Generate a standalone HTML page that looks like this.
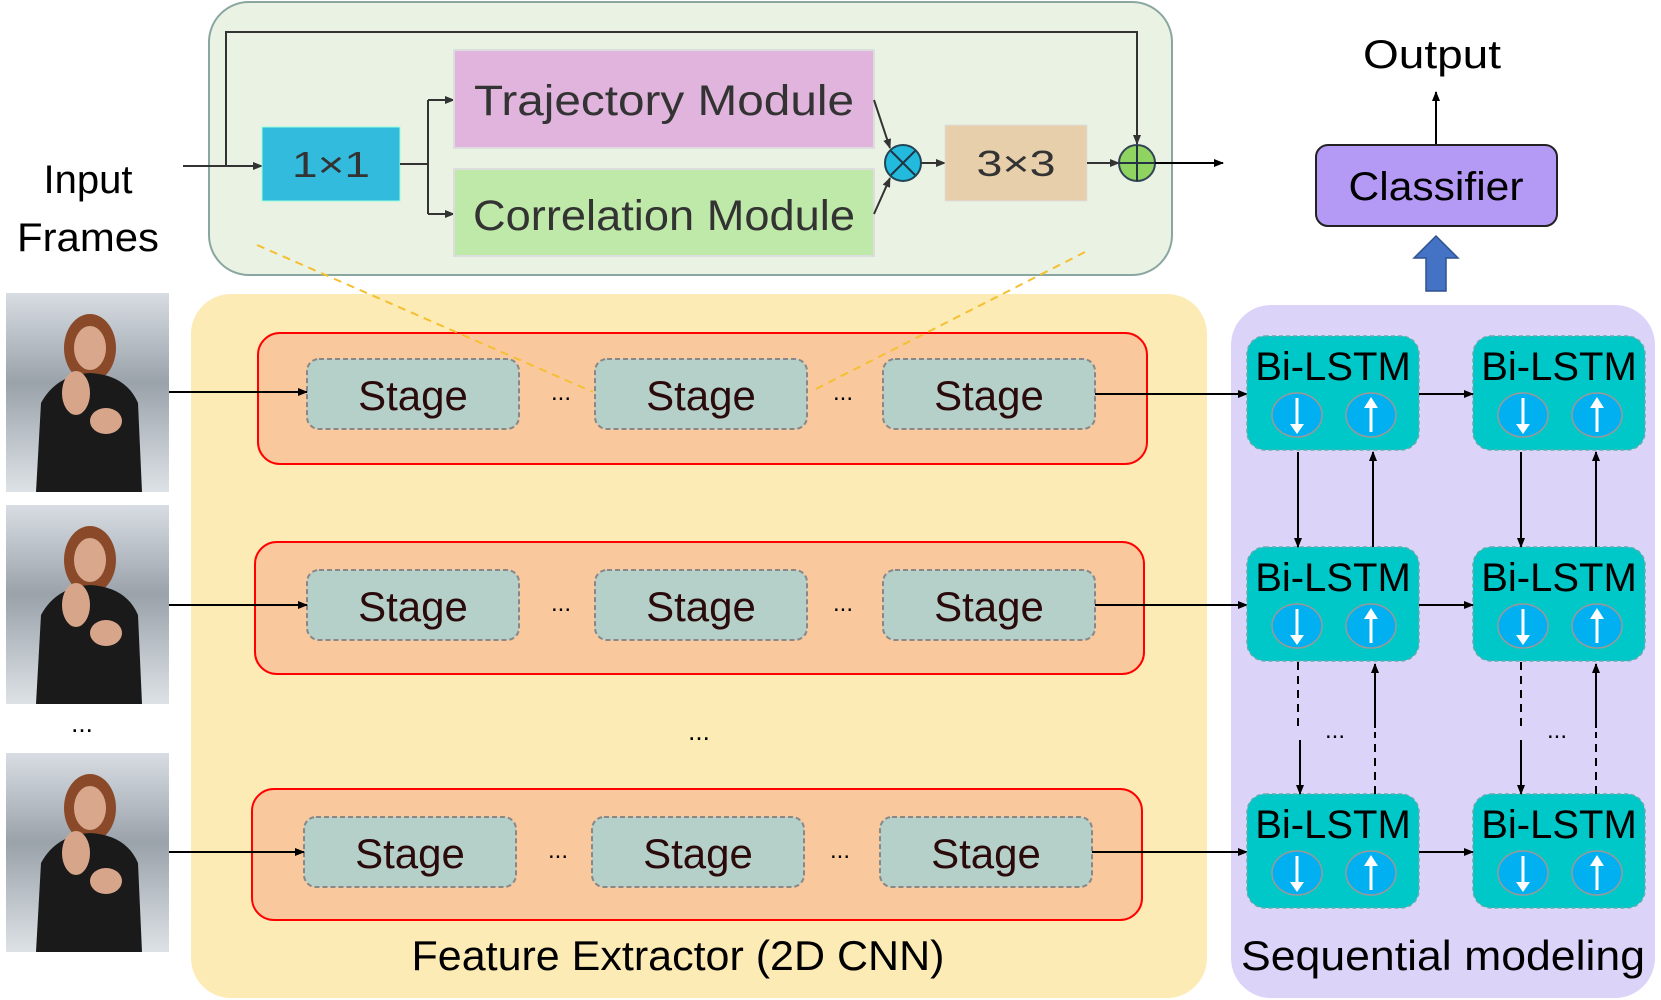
<!DOCTYPE html>
<html><head><meta charset="utf-8"><style>html,body{margin:0;padding:0;background:#fff;width:1661px;height:1000px;overflow:hidden}svg{display:block}text{font-family:"Liberation Sans",sans-serif}</style></head>
<body>
<svg width="1661" height="1000" viewBox="0 0 1661 1000" xmlns="http://www.w3.org/2000/svg">
<defs>
<marker id="a" markerWidth="10" markerHeight="10" refX="9" refY="5" orient="auto" markerUnits="userSpaceOnUse"><path d="M0,1 L10,5 L0,9 z" fill="#000"/></marker>
<marker id="ag" markerWidth="10" markerHeight="10" refX="9" refY="5" orient="auto" markerUnits="userSpaceOnUse"><path d="M0,1 L10,5 L0,9 z" fill="#333"/></marker>
<linearGradient id="bg" x1="0" y1="0" x2="0" y2="1"><stop offset="0" stop-color="#d8dde3"/><stop offset="0.45" stop-color="#9aa2aa"/><stop offset="1" stop-color="#dde2e6"/></linearGradient>
<g id="person">
<rect x="0" y="0" width="163" height="199" fill="url(#bg)"/>
<ellipse cx="84" cy="55" rx="26" ry="34" fill="#8a4a2a"/>
<ellipse cx="84" cy="55" rx="16" ry="22" fill="#d9a88c"/>
<path d="M30,199 L35,110 Q50,82 84,80 Q120,82 132,110 L136,199 z" fill="#1a1a1a"/>
<ellipse cx="70" cy="100" rx="14" ry="22" fill="#d7a58a"/>
<ellipse cx="100" cy="128" rx="16" ry="13" fill="#d7a58a"/>
</g>
<g id="bl">
<rect x="0" y="0" width="172" height="114" rx="18" fill="#00c8c8" stroke="#6aa" stroke-width="1.5" stroke-dasharray="4,3"/>
<text x="86" y="44" font-size="40" text-anchor="middle">Bi-LSTM</text>
<ellipse cx="50" cy="79" rx="25" ry="22" fill="#00b0f0" stroke="#999" stroke-width="1.5"/>
<ellipse cx="124" cy="79" rx="25" ry="22" fill="#00b0f0" stroke="#999" stroke-width="1.5"/>
<line x1="50" y1="62" x2="50" y2="90" stroke="#fff" stroke-width="3"/><path d="M43,88 L57,88 L50,98 z" fill="#fff"/>
<line x1="124" y1="96" x2="124" y2="70" stroke="#fff" stroke-width="3"/><path d="M117,72 L131,72 L124,61 z" fill="#fff"/>
</g>
</defs>

<!-- top module -->
<rect x="209" y="2" width="963" height="273" rx="40" fill="#eaf2e3" stroke="#8aa6a0" stroke-width="2"/>
<polyline points="183,166 262,166" fill="none" stroke="#333" stroke-width="2" marker-end="url(#ag)"/>
<polyline points="226,166 226,32 1137,32 1137,144" fill="none" stroke="#333" stroke-width="2" marker-end="url(#ag)"/>
<rect x="262" y="127" width="138" height="74" fill="#33bbdd" stroke="#9fd" stroke-width="1"/>
<text x="331" y="177" font-size="36" text-anchor="middle" fill="#333" textLength="78" lengthAdjust="spacingAndGlyphs">1×1</text>
<polyline points="400,164 428,164" stroke="#333" stroke-width="2"/>
<polyline points="428,100 428,214" fill="none" stroke="#333" stroke-width="2"/>
<line x1="428" y1="100" x2="454" y2="100" stroke="#333" stroke-width="2" marker-end="url(#ag)"/>
<line x1="428" y1="214" x2="454" y2="214" stroke="#333" stroke-width="2" marker-end="url(#ag)"/>
<rect x="454" y="50" width="420" height="98" fill="#e0b4dc" stroke="#ddd" stroke-width="2"/>
<text x="664" y="115" font-size="43" text-anchor="middle" fill="#333" textLength="380" lengthAdjust="spacingAndGlyphs">Trajectory Module</text>
<rect x="454" y="169" width="420" height="87" fill="#bfe9a8" stroke="#ddd" stroke-width="2"/>
<text x="664" y="230" font-size="43" text-anchor="middle" fill="#333" textLength="382" lengthAdjust="spacingAndGlyphs">Correlation Module</text>
<line x1="874" y1="100" x2="890" y2="148" stroke="#333" stroke-width="2" marker-end="url(#ag)"/>
<line x1="874" y1="214" x2="890" y2="178" stroke="#333" stroke-width="2" marker-end="url(#ag)"/>
<circle cx="903" cy="163" r="18" fill="#22bbdd" stroke="#245" stroke-width="2"/>
<path d="M891,151 L915,175 M915,151 L891,175" stroke="#234" stroke-width="2"/>
<line x1="921" y1="163" x2="945" y2="163" stroke="#333" stroke-width="2" marker-end="url(#ag)"/>
<rect x="945" y="125" width="142" height="76" fill="#e6cfaa" stroke="#ddd"/>
<text x="1016" y="176" font-size="36" text-anchor="middle" fill="#333" textLength="79" lengthAdjust="spacingAndGlyphs">3×3</text>
<line x1="1087" y1="163" x2="1119" y2="163" stroke="#333" stroke-width="2" marker-end="url(#ag)"/>
<circle cx="1137" cy="163" r="18" fill="#8fd460" stroke="#345" stroke-width="2"/>
<path d="M1119,163 L1155,163 M1137,145 L1137,181" stroke="#234" stroke-width="2"/>
<line x1="1155" y1="163" x2="1223" y2="163" stroke="#000" stroke-width="2" marker-end="url(#a)"/>
<text x="88" y="193" font-size="40" text-anchor="middle">Input</text>
<text x="88" y="251" font-size="40" text-anchor="middle" textLength="142" lengthAdjust="spacingAndGlyphs">Frames</text>

<!-- output / classifier -->
<text x="1432" y="68" font-size="40" text-anchor="middle" textLength="138" lengthAdjust="spacingAndGlyphs">Output</text>
<line x1="1436" y1="145" x2="1436" y2="92" stroke="#000" stroke-width="2" marker-end="url(#a)"/>
<rect x="1316" y="145" width="241" height="81" rx="12" fill="#b49af5" stroke="#222" stroke-width="2"/>
<text x="1436" y="200" font-size="40" text-anchor="middle" textLength="175" lengthAdjust="spacingAndGlyphs">Classifier</text>
<path d="M1426,291 L1426,258 L1414,258 L1436,236 L1458,258 L1446,258 L1446,291 z" fill="#4472c4" stroke="#2f528f" stroke-width="1.5"/>

<!-- big panels -->
<rect x="191" y="294" width="1016" height="704" rx="40" fill="#fdebb5"/>
<rect x="1231" y="305" width="424" height="693" rx="40" fill="#dcd3f9"/>

<!-- images -->
<use href="#person" x="6" y="293"/>
<use href="#person" x="6" y="505"/>
<use href="#person" x="6" y="753"/>
<text x="82" y="732" font-size="26" text-anchor="middle">...</text>

<!-- rows -->
<g>
<rect x="258" y="333" width="889" height="131" rx="22" fill="#fac89d" stroke="#f00" stroke-width="2"/>
<line x1="257" y1="245" x2="593" y2="392" stroke="#f5c030" stroke-width="2" stroke-dasharray="8,6"/>
<line x1="1085" y1="252" x2="810" y2="392" stroke="#f5c030" stroke-width="2" stroke-dasharray="8,6"/>
<rect x="307" y="359" width="212" height="70" rx="12" fill="#b5cfc9" stroke="#888" stroke-width="2" stroke-dasharray="5,3"/>
<rect x="595" y="359" width="212" height="70" rx="12" fill="#b5cfc9" stroke="#888" stroke-width="2" stroke-dasharray="5,3"/>
<rect x="883" y="359" width="212" height="70" rx="12" fill="#b5cfc9" stroke="#888" stroke-width="2" stroke-dasharray="5,3"/>
<text x="413" y="410" font-size="42" text-anchor="middle" fill="#2a0a0a">Stage</text>
<text x="701" y="410" font-size="42" text-anchor="middle" fill="#2a0a0a">Stage</text>
<text x="989" y="410" font-size="42" text-anchor="middle" fill="#2a0a0a">Stage</text>
<text x="561" y="400" font-size="24" text-anchor="middle">...</text>
<text x="843" y="400" font-size="24" text-anchor="middle">...</text>
<line x1="169" y1="392" x2="307" y2="392" stroke="#000" stroke-width="2" marker-end="url(#a)"/>
<line x1="1095" y1="394" x2="1247" y2="394" stroke="#000" stroke-width="2" marker-end="url(#a)"/>
</g>
<g>
<rect x="255" y="542" width="889" height="132" rx="22" fill="#fac89d" stroke="#f00" stroke-width="2"/>
<rect x="307" y="570" width="212" height="70" rx="12" fill="#b5cfc9" stroke="#888" stroke-width="2" stroke-dasharray="5,3"/>
<rect x="595" y="570" width="212" height="70" rx="12" fill="#b5cfc9" stroke="#888" stroke-width="2" stroke-dasharray="5,3"/>
<rect x="883" y="570" width="212" height="70" rx="12" fill="#b5cfc9" stroke="#888" stroke-width="2" stroke-dasharray="5,3"/>
<text x="413" y="621" font-size="42" text-anchor="middle" fill="#2a0a0a">Stage</text>
<text x="701" y="621" font-size="42" text-anchor="middle" fill="#2a0a0a">Stage</text>
<text x="989" y="621" font-size="42" text-anchor="middle" fill="#2a0a0a">Stage</text>
<text x="561" y="611" font-size="24" text-anchor="middle">...</text>
<text x="843" y="611" font-size="24" text-anchor="middle">...</text>
<line x1="169" y1="605" x2="307" y2="605" stroke="#000" stroke-width="2" marker-end="url(#a)"/>
<line x1="1095" y1="605" x2="1247" y2="605" stroke="#000" stroke-width="2" marker-end="url(#a)"/>
</g>
<text x="699" y="740" font-size="26" text-anchor="middle">...</text>
<g>
<rect x="252" y="789" width="890" height="131" rx="22" fill="#fac89d" stroke="#f00" stroke-width="2"/>
<rect x="304" y="817" width="212" height="70" rx="12" fill="#b5cfc9" stroke="#888" stroke-width="2" stroke-dasharray="5,3"/>
<rect x="592" y="817" width="212" height="70" rx="12" fill="#b5cfc9" stroke="#888" stroke-width="2" stroke-dasharray="5,3"/>
<rect x="880" y="817" width="212" height="70" rx="12" fill="#b5cfc9" stroke="#888" stroke-width="2" stroke-dasharray="5,3"/>
<text x="410" y="868" font-size="42" text-anchor="middle" fill="#2a0a0a">Stage</text>
<text x="698" y="868" font-size="42" text-anchor="middle" fill="#2a0a0a">Stage</text>
<text x="986" y="868" font-size="42" text-anchor="middle" fill="#2a0a0a">Stage</text>
<text x="558" y="858" font-size="24" text-anchor="middle">...</text>
<text x="840" y="858" font-size="24" text-anchor="middle">...</text>
<line x1="169" y1="852" x2="304" y2="852" stroke="#000" stroke-width="2" marker-end="url(#a)"/>
<line x1="1092" y1="852" x2="1247" y2="852" stroke="#000" stroke-width="2" marker-end="url(#a)"/>
</g>
<text x="678" y="970" font-size="42" text-anchor="middle" textLength="533" lengthAdjust="spacingAndGlyphs">Feature Extractor (2D CNN)</text>

<!-- Bi-LSTM -->
<use href="#bl" x="1247" y="336"/>
<use href="#bl" x="1473" y="336"/>
<use href="#bl" x="1247" y="547"/>
<use href="#bl" x="1473" y="547"/>
<use href="#bl" x="1247" y="794"/>
<use href="#bl" x="1473" y="794"/>
<line x1="1419" y1="394" x2="1473" y2="394" stroke="#000" stroke-width="2" marker-end="url(#a)"/>
<line x1="1419" y1="605" x2="1473" y2="605" stroke="#000" stroke-width="2" marker-end="url(#a)"/>
<line x1="1419" y1="852" x2="1473" y2="852" stroke="#000" stroke-width="2" marker-end="url(#a)"/>
<line x1="1298" y1="452" x2="1298" y2="547" stroke="#000" stroke-width="2" marker-end="url(#a)"/>
<line x1="1373" y1="547" x2="1373" y2="452" stroke="#000" stroke-width="2" marker-end="url(#a)"/>
<line x1="1298" y1="662" x2="1298" y2="730" stroke="#000" stroke-width="2" stroke-dasharray="8,6"/>
<line x1="1300" y1="740" x2="1300" y2="794" stroke="#000" stroke-width="2" marker-end="url(#a)"/>
<line x1="1375" y1="794" x2="1375" y2="732" stroke="#000" stroke-width="2" stroke-dasharray="8,6"/>
<line x1="1375" y1="728" x2="1375" y2="664" stroke="#000" stroke-width="2" marker-end="url(#a)"/>
<text x="1335" y="738" font-size="24" text-anchor="middle">...</text>
<line x1="1521" y1="452" x2="1521" y2="547" stroke="#000" stroke-width="2" marker-end="url(#a)"/>
<line x1="1596" y1="547" x2="1596" y2="452" stroke="#000" stroke-width="2" marker-end="url(#a)"/>
<line x1="1521" y1="662" x2="1521" y2="730" stroke="#000" stroke-width="2" stroke-dasharray="8,6"/>
<line x1="1521" y1="740" x2="1521" y2="794" stroke="#000" stroke-width="2" marker-end="url(#a)"/>
<line x1="1596" y1="794" x2="1596" y2="732" stroke="#000" stroke-width="2" stroke-dasharray="8,6"/>
<line x1="1596" y1="728" x2="1596" y2="664" stroke="#000" stroke-width="2" marker-end="url(#a)"/>
<text x="1557" y="738" font-size="24" text-anchor="middle">...</text>
<text x="1443" y="970" font-size="42" text-anchor="middle" textLength="404" lengthAdjust="spacingAndGlyphs">Sequential modeling</text>
</svg>
</body></html>
